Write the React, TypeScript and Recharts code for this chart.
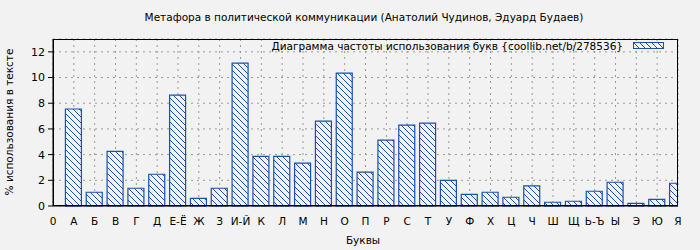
import React from 'react';
import { BarChart, Bar, XAxis, YAxis, CartesianGrid } from 'recharts';

const LETTERS = ['0', 'А', 'Б', 'В', 'Г', 'Д', 'Е-Ё', 'Ж', 'З', 'И-Й', 'К', 'Л', 'М', 'Н', 'О', 'П', 'Р', 'С', 'Т', 'У', 'Ф', 'Х', 'Ц', 'Ч', 'Ш', 'Щ', 'Ь-Ъ', 'Ы', 'Э', 'Ю', 'Я'];
const PERCENTS = [7.55, 1.07, 4.26, 1.38, 2.47, 8.63, 0.6, 1.38, 11.12, 3.87, 3.87, 3.33, 6.6, 10.34, 2.63, 5.13, 6.3, 6.45, 2.0, 0.91, 1.07, 0.68, 1.56, 0.29, 0.37, 1.15, 1.85, 0.21, 0.52, 1.77];
const Y_TICKS = [0, 2, 4, 6, 8, 10, 12];

const TITLE = 'Метафора в политической коммуникации (Анатолий Чудинов, Эдуард Будаев)';
const LEGEND_TEXT = 'Диаграмма частоты использования букв {coollib.net/b/278536}';

const BLUE = '#1a4fb5';
const FONT = '"DejaVu Sans", sans-serif';
const FS = 10.5;

const data = PERCENTS.map((value, i) => ({ x: i + 1, value }));
const xTicks = LETTERS.map((_, i) => i);

export default function App() {
  return (
    <div style={{ position: 'relative', width: 700, height: 250, background: '#f2f2f2', fontFamily: FONT }}>
      <style>{'body{margin:0}'}</style>
      <div style={{ position: 'absolute', top: 11, left: 0, width: 728, textAlign: 'center', fontSize: FS, color: '#000' }}>
        {TITLE}
      </div>
      <BarChart width={700} height={250} data={data} margin={{ top: 39, right: 22, left: 23, bottom: 24 }}>
        <defs>
          <pattern id="hatch" patternUnits="userSpaceOnUse" width={6} height={6}>
            <rect width={6} height={6} fill="#f2f2f2" />
            <path d="M0,0 L6,6 M-1,5 L1,7 M5,-1 L7,1" stroke={BLUE} strokeWidth={1} />
          </pattern>
        </defs>
        <CartesianGrid stroke="#999" strokeDasharray="2 4" />
        <XAxis
          type="number"
          dataKey="x"
          domain={[0, 30]}
          ticks={xTicks}
          interval={0}
          allowDataOverflow
          height={20}
          tickLine={false}
          axisLine={{ stroke: '#000' }}
          tickMargin={6}
          tick={{ fontSize: FS, fill: '#000', fontFamily: FONT }}
          tickFormatter={(v: number) => LETTERS[v]}
        />
        <YAxis
          domain={[0, 13]}
          ticks={Y_TICKS}
          width={30}
          tickSize={5}
          tickMargin={3}
          tickLine={{ stroke: '#000' }}
          axisLine={{ stroke: '#000' }}
          tick={{ fontSize: FS + 0.5, fill: '#000', fontFamily: FONT }}
        />
        <YAxis
          yAxisId="right"
          orientation="right"
          domain={[0, 13]}
          ticks={Y_TICKS}
          width={0}
          tickSize={-4}
          tickLine={{ stroke: '#000' }}
          axisLine={{ stroke: '#000' }}
          tickFormatter={() => ''}
        />
        <Bar dataKey="value" barSize={16} fill="url(#hatch)" stroke={BLUE} strokeWidth={1.2} isAnimationActive={false} />
      </BarChart>
      <div style={{ position: 'absolute', left: 53, top: 39, width: 625, height: 167, border: '1px solid #000', boxSizing: 'border-box', pointerEvents: 'none' }} />
      <div style={{ position: 'absolute', right: 35, top: 40, display: 'flex', alignItems: 'center', fontSize: FS, color: '#000' }}>
        <span>{LEGEND_TEXT}</span>
        <svg width={32} height={8} style={{ marginLeft: 10 }}>
          <rect x={0.5} y={0.5} width={30} height={6} fill="url(#hatch)" stroke={BLUE} strokeWidth={1} />
        </svg>
      </div>
      <div style={{ position: 'absolute', left: 9, top: 122, transform: 'translate(-50%, -50%) rotate(-90deg)', whiteSpace: 'nowrap', fontSize: FS, color: '#000' }}>
        % использования в тексте
      </div>
      <div style={{ position: 'absolute', top: 234, left: 0, width: 726, textAlign: 'center', fontSize: FS, color: '#000' }}>
        Буквы
      </div>
    </div>
  );
}
